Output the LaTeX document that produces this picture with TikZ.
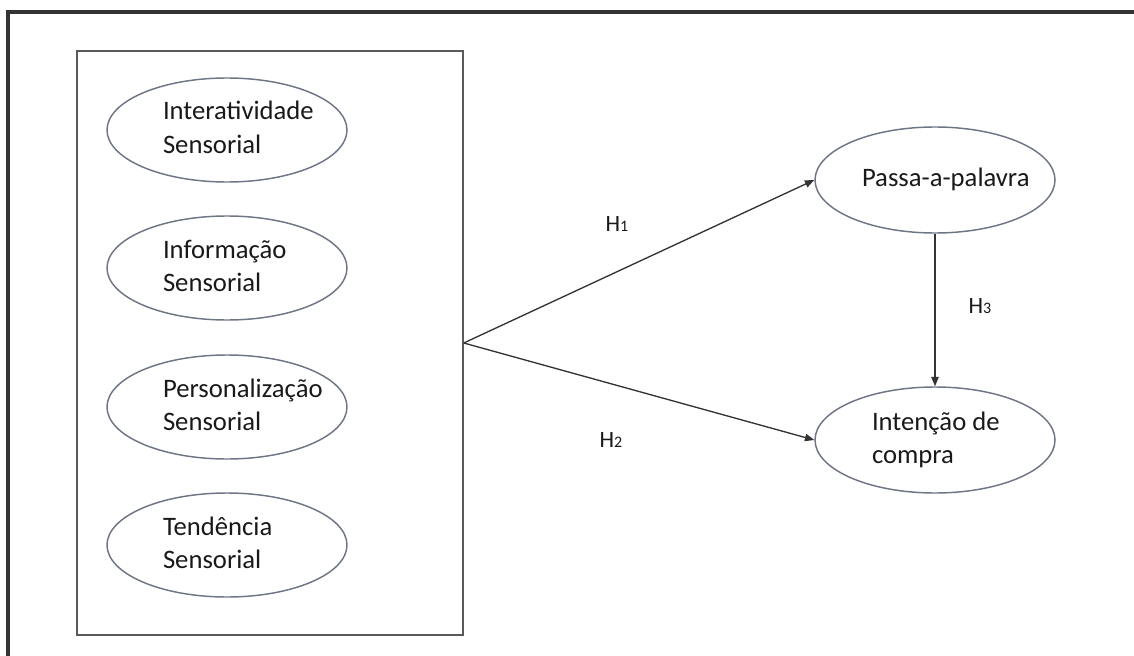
\documentclass[tikz,border=0pt]{standalone}
\usepackage{fontspec}
\setmainfont{Carlito}
\usetikzlibrary{shapes.geometric,arrows.meta}
\definecolor{ovalline}{HTML}{6E7585}
\definecolor{boxline}{HTML}{5A5A5A}
\newcommand{\ovaltext}[2]{\makebox[#1][l]{\begin{tabular}{@{}l@{}}#2\end{tabular}}}
\newcommand{\hyp}[1]{H{\fontsize{12}{12}\selectfont #1}}
\begin{document}
\begin{tikzpicture}[x=0.75pt,y=-0.75pt,
  oval/.style={draw=ovalline, line width=1.1pt, ellipse, inner sep=0pt,
    minimum width=180pt, minimum height=78pt, text=black!90,
    font=\fontsize{20}{25}\selectfont},
  hlabel/.style={font=\fontsize{17.5}{20}\selectfont, text=black!90},
  link/.style={draw=black!80, line width=1pt, -{Triangle[length=7pt,width=5.5pt]}}]
\useasboundingbox (0,0) rectangle (1134,656);
% outer frame (cut off at right and bottom)
\draw[line width=2.4pt, black!80] (8,656) -- (8,12) -- (1134,12);

% sensory block
\node[draw=boxline, line width=1.1pt, minimum width=289.5pt, minimum height=438pt] (grp) at (270,343) {};
\node[oval] (inter) at (227,130) {\ovaltext{96pt}{Interatividade\\Sensorial}};
\node[oval] (info) at (227,268) {\ovaltext{96pt}{Informação\\Sensorial}};
\node[oval] (pers) at (227,407) {\ovaltext{96pt}{Personalização\\Sensorial}};
\node[oval] (tend) at (227,545) {\ovaltext{96pt}{Tendência\\Sensorial}};

% outcomes
\node[oval, minimum height=79.5pt] (wom) at (935,180) {\ovaltext{109.5pt}{Passa-a-palavra}};
\node[oval, minimum height=79.5pt] (buy) at (935,440) {\ovaltext{94.5pt}{Intenção de\\compra}};

\draw[link] (grp.east) -- (wom.west);
\draw[link] (grp.east) -- (buy.west);
\draw[link] (wom.south) -- (buy.north);

\node[hlabel] (h1) at (617,224) {\hyp{1}};
\node[hlabel] (h2) at (611,440) {\hyp{2}};
\node[hlabel] (h3) at (980,306) {\hyp{3}};
\end{tikzpicture}
\end{document}
